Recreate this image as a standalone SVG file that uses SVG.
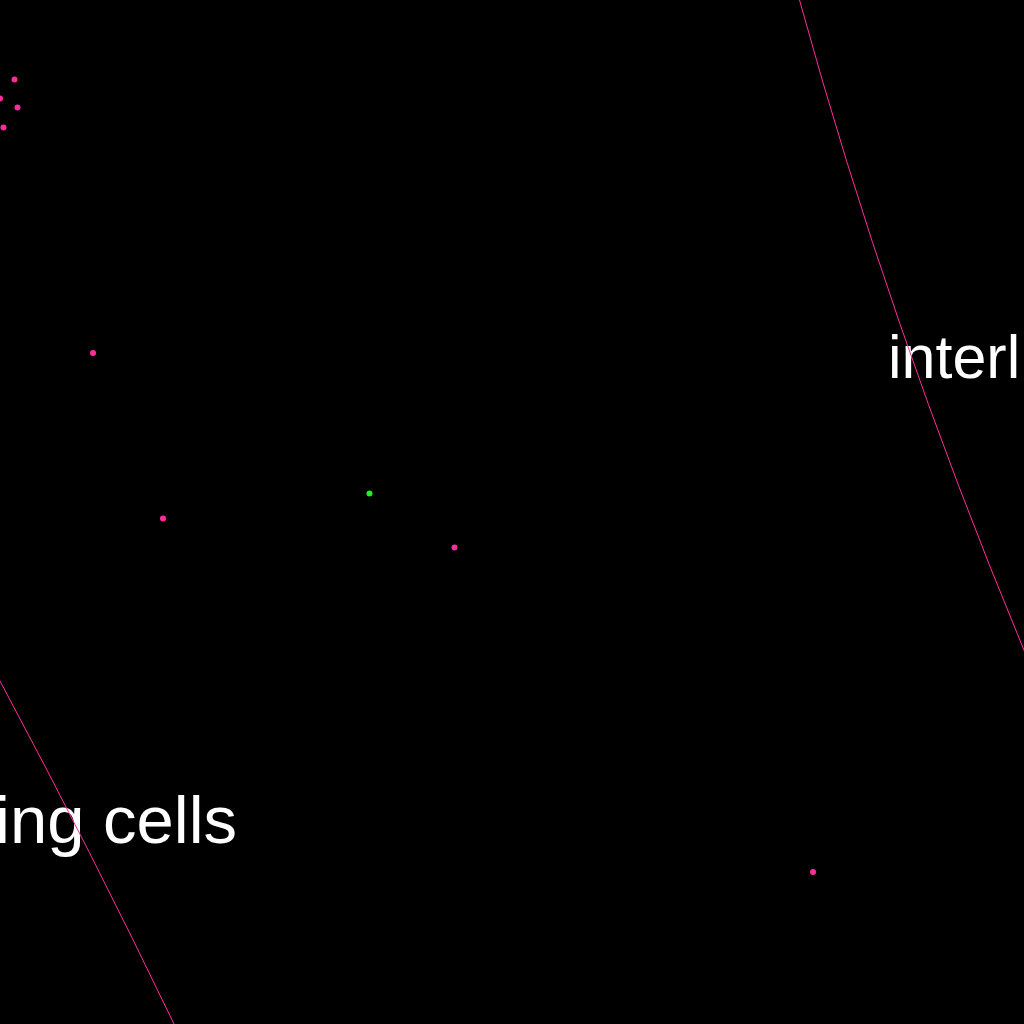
<svg xmlns="http://www.w3.org/2000/svg" width="1024" height="1024" viewBox="0 0 1024 1024">
  <style>
    .lbl { font-family: "Liberation Sans", Arial, sans-serif; fill: #ffffff; }
    .curve { fill: none; stroke: #ff2d9b; stroke-width: 1; }
    .pt { fill: #ff2d9b; }
    .pt-g { fill: #22ee22; }
  </style>
  <rect x="0" y="0" width="1024" height="1024" fill="#000000"/>
  <g id="labels">
    <text class="lbl" x="888" y="378" font-size="61">interl</text>
    <text class="lbl" x="-5" y="843" font-size="67">ing cells</text>
  </g>
  <g id="connectors">
    <path class="curve" d="M 799.5,0 Q 888.5,323.5 1022.7,647 L 1040,688"/>
    <path class="curve" d="M -10,662 L 0,681 Q 91.75,852.5 174,1024 L 178,1032"/>
  </g>
  <g id="points">
    <circle class="pt" cx="14.5" cy="79.5" r="3"/>
    <circle class="pt" cx="0" cy="98.5" r="3"/>
    <circle class="pt" cx="17.5" cy="107.5" r="3"/>
    <circle class="pt" cx="3.5" cy="127.5" r="3"/>
    <circle class="pt" cx="93" cy="353" r="3"/>
    <circle class="pt" cx="163" cy="518.5" r="3"/>
    <circle class="pt" cx="454.5" cy="547.5" r="3"/>
    <circle class="pt" cx="813" cy="872" r="3"/>
    <circle class="pt-g" cx="369.5" cy="493.5" r="3"/>
  </g>
</svg>
